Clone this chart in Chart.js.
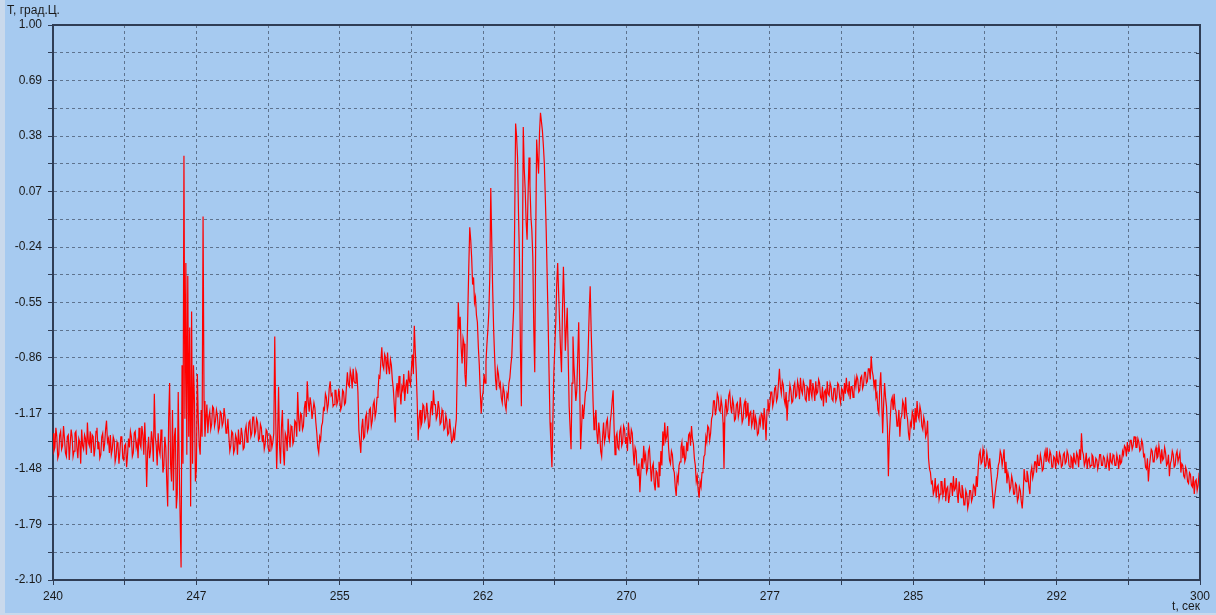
<!DOCTYPE html>
<html>
<head>
<meta charset="utf-8">
<title>T, град.Ц.</title>
<script src="https://cdn.jsdelivr.net/npm/chart.js@4.4.0/dist/chart.umd.min.js"></script>
<style>
  html, body { margin: 0; padding: 0; background: #A6CAF0; }
  #wrap { width: 1216px; height: 615px; }
</style>
</head>
<body>
<div id="wrap"><canvas id="tempChart" width="1216" height="615"></canvas></div>
<script>
// sample time (s): first sample and step between samples
const timeStart = 240;
const timeStep = 0.05;

// temperature, one row per second (20 samples each)
const temperature = [
  -1.28,-1.38,-1.36,-1.25,-1.30,-1.42,-1.40,-1.29,-1.27,-1.37,-1.35,-1.24,-1.31,-1.39,-1.41,-1.30,-1.29,-1.43,-1.34,-1.26, // 240
  -1.30,-1.41,-1.38,-1.28,-1.27,-1.36,-1.42,-1.31,-1.33,-1.45,-1.26,-1.35,-1.37,-1.29,-1.31,-1.40,-1.22,-1.33,-1.35,-1.27, // 241
  -1.39,-1.29,-1.30,-1.41,-1.36,-1.27,-1.25,-1.37,-1.33,-1.42,-1.40,-1.30,-1.28,-1.38,-1.34,-1.26,-1.21,-1.33,-1.31,-1.39, // 242
  -1.29,-1.40,-1.37,-1.30,-1.32,-1.44,-1.41,-1.33,-1.35,-1.45,-1.38,-1.30,-1.30,-1.42,-1.43,-1.35,-1.34,-1.47,-1.40,-1.31, // 243
  -1.36,-1.27,-1.30,-1.41,-1.39,-1.28,-1.27,-1.36,-1.33,-1.42,-1.25,-1.34,-1.36,-1.24,-1.29,-1.40,-1.22,-1.35,-1.58,-1.38, // 244
  -1.30,-1.42,-1.38,-1.27,-1.32,-1.44,-1.06,-1.30,-1.35,-1.46,-1.28,-1.37,-1.40,-1.26,-1.33,-1.50,-1.46,-1.30,-1.36,-1.55, // 245
  -1.69,-1.20,-1.00,-1.45,-1.55,-1.15,-1.60,-1.30,-1.25,-1.70,-1.62,-1.05,-1.45,-1.75,-2.03,-0.90,-1.45, 0.27,-1.20,-0.33, // 246
  -1.40,-0.40,-1.30,-0.69,-1.69,-0.60,-1.45,-0.90,-1.10,-1.55,-1.48,-0.95,-1.20,-1.35,-1.40,-1.15,-1.30,-0.07,-1.10,-1.30, // 247
  -1.20,-1.12,-1.28,-1.19,-1.16,-1.26,-1.23,-1.13,-1.14,-1.24,-1.21,-1.15,-1.18,-1.27,-1.25,-1.16,-1.17,-1.24,-1.22,-1.14, // 248
  -1.19,-1.28,-1.26,-1.20,-1.30,-1.38,-1.35,-1.27,-1.28,-1.39,-1.37,-1.29,-1.31,-1.40,-1.26,-1.34,-1.34,-1.25,-1.29,-1.37, // 249
  -1.36,-1.27,-1.24,-1.33,-1.30,-1.22,-1.21,-1.30,-1.28,-1.19,-1.19,-1.29,-1.27,-1.20,-1.22,-1.32,-1.31,-1.23,-1.25,-1.33, // 250
  -1.29,-1.37,-1.34,-1.26,-1.27,-1.36,-1.38,-1.29,-1.30,-1.36,-1.33,-1.28,-0.74,-1.20,-1.48,-1.30,-1.02,-1.35,-1.45,-1.25, // 251
  -1.15,-1.38,-1.46,-1.28,-1.30,-1.38,-1.20,-1.29,-1.36,-1.24,-1.25,-1.34,-1.32,-1.21,-1.22,-1.30,-1.05,-1.20,-1.27,-1.17, // 252
  -1.18,-1.26,-1.24,-1.14,-1.10,-1.19,-0.99,-1.10,-1.16,-1.08,-1.12,-1.20,-1.20,-1.11,-1.14,-1.22,-1.28,-1.36,-1.39,-1.30, // 253
  -1.32,-1.24,-1.22,-1.14,-1.15,-1.06,-1.08,-1.15,-1.12,-1.03,-0.99,-1.07,-1.06,-1.13,-1.12,-1.04,-1.04,-1.12,-1.10,-1.03, // 254
  -1.09,-1.15,-1.13,-1.04,-1.05,-1.12,-1.11,-1.02,-0.94,-1.01,-1.02,-0.93,-0.96,-1.03,-0.92,-0.99,-1.00,-0.93,-0.95,-1.05, // 255
  -1.26,-1.33,-1.39,-1.25,-1.20,-1.31,-1.30,-1.19,-1.17,-1.27,-1.25,-1.15,-1.14,-1.24,-1.21,-1.12,-1.10,-1.19,-1.16,-1.08, // 256
  -1.05,-0.96,-0.97,-0.88,-0.80,-0.90,-0.92,-0.84,-0.86,-0.95,-0.83,-0.91,-0.95,-0.87,-0.90,-0.98,-1.03,-1.12,-1.22,-1.05, // 257
  -1.00,-1.08,-0.96,-1.05,-1.12,-1.02,-1.04,-0.95,-1.10,-1.02,-0.98,-1.06,-0.93,-0.99,-1.01,-0.92,-0.84,-0.95,-0.68,-0.82, // 258
  -0.93,-1.10,-1.32,-1.20,-1.15,-1.24,-1.22,-1.12,-1.13,-1.21,-1.19,-1.11,-1.17,-1.25,-1.24,-1.15,-1.10,-1.18,-1.04,-1.12, // 259
  -1.12,-1.20,-1.18,-1.10,-1.14,-1.23,-1.22,-1.15,-1.17,-1.26,-1.25,-1.18,-1.21,-1.29,-1.28,-1.20,-1.26,-1.33,-1.32,-1.27, // 260
  -1.32,-1.25,-1.20,-0.90,-0.55,-0.70,-0.63,-0.80,-0.89,-0.75,-0.78,-0.95,-1.02,-0.85,-0.60,-0.35,-0.13,-0.20,-0.30,-0.45, // 261
  -0.41,-0.55,-0.52,-0.62,-0.66,-0.80,-0.90,-1.05,-1.17,-1.08,-1.05,-0.95,-1.00,-0.88,-0.78,-0.70,-0.60,-0.40, 0.09,-0.20, // 262
  -0.48,-0.70,-0.85,-0.98,-1.04,-0.92,-0.95,-1.02,-1.00,-1.08,-1.11,-1.02,-1.05,-1.12,-1.15,-1.06,-1.08,-1.00,-0.97,-0.90, // 263
  -0.85,-0.70,-0.58,-0.10, 0.45, 0.38, 0.26,-0.05,-0.30,-0.80,-1.13,-0.40, 0.43, 0.20, 0.08,-0.10,-0.20, 0.05, 0.26, 0.10, // 264
  -0.07,-0.15,-0.30,-0.70,-0.94,-0.20, 0.36, 0.25, 0.17, 0.40, 0.51, 0.46, 0.41, 0.33, 0.23, 0.05,-0.15,-0.40,-0.66,-0.95, // 265
  -1.22,-1.35,-1.47,-1.20,-0.94,-0.80,-0.66,-0.45,-0.33,-0.50,-0.66,-0.82,-0.94,-0.60,-0.35,-0.55,-0.82,-0.70,-0.58,-0.85, // 266
  -1.13,-1.25,-1.37,-1.00,-0.74,-0.90,-1.00,-1.10,-1.04,-0.85,-0.66,-1.00,-1.37,-1.25,-1.12,-1.20,-1.13,-1.05,-1.04,-0.95, // 267
  -0.80,-0.60,-0.46,-0.70,-0.89,-1.10,-1.26,-1.20,-1.15,-1.28,-1.34,-1.22,-1.28,-1.38,-1.41,-1.30,-1.22,-1.33,-1.30,-1.22, // 268
  -1.20,-1.30,-1.32,-1.22,-1.17,-1.10,-1.04,-1.25,-1.40,-1.30,-1.28,-1.36,-1.37,-1.27,-1.25,-1.35,-1.33,-1.24,-1.26,-1.34, // 269
  -1.30,-1.38,-1.22,-1.30,-1.34,-1.26,-1.28,-1.38,-1.46,-1.36,-1.38,-1.48,-1.52,-1.45,-1.61,-1.50,-1.42,-1.48,-1.35,-1.43, // 270
  -1.40,-1.50,-1.48,-1.38,-1.36,-1.46,-1.55,-1.47,-1.45,-1.56,-1.60,-1.49,-1.50,-1.58,-1.44,-1.52,-1.38,-1.46,-1.27,-1.35, // 271
  -1.22,-1.32,-1.30,-1.24,-1.36,-1.43,-1.45,-1.38,-1.40,-1.48,-1.50,-1.58,-1.63,-1.52,-1.55,-1.46,-1.44,-1.36,-1.33,-1.42, // 272
  -1.35,-1.44,-1.42,-1.33,-1.38,-1.29,-1.28,-1.35,-1.24,-1.31,-1.34,-1.42,-1.46,-1.55,-1.52,-1.60,-1.64,-1.55,-1.58,-1.50, // 273
  -1.48,-1.41,-1.40,-1.30,-1.33,-1.24,-1.25,-1.32,-1.28,-1.20,-1.18,-1.10,-1.10,-1.18,-1.14,-1.06,-1.08,-1.15,-1.16,-1.09, // 274
  -1.13,-1.22,-1.48,-1.15,-1.09,-1.17,-1.15,-1.07,-1.05,-1.13,-1.17,-1.09,-1.12,-1.21,-1.20,-1.12,-1.11,-1.19,-1.16,-1.08, // 275
  -1.14,-1.22,-1.20,-1.12,-1.10,-1.19,-1.18,-1.11,-1.24,-1.17,-1.16,-1.24,-1.21,-1.15,-1.26,-1.19,-1.22,-1.29,-1.28,-1.20, // 276
  -1.23,-1.17,-1.18,-1.26,-1.14,-1.21,-1.32,-1.15,-1.09,-1.16,-1.12,-1.05,-1.05,-1.13,-1.10,-1.03,-1.02,-1.10,-1.08,-1.00, // 277
  -0.92,-1.02,-1.06,-0.99,-1.01,-1.09,-1.12,-1.05,-1.21,-1.10,-1.08,-1.01,-1.04,-1.11,-1.10,-1.02,-1.00,-1.08,-1.07,-0.99, // 278
  -1.02,-1.09,-0.97,-1.04,-1.06,-0.99,-1.01,-1.09,-1.10,-1.02,-1.03,-1.10,-0.98,-1.05,-1.08,-1.00,-1.04,-1.10,-0.99,-1.06, // 279
  -1.05,-0.98,-1.00,-1.08,-1.09,-1.02,-1.13,-1.05,-1.04,-1.11,-0.99,-1.06,-1.07,-1.00,-1.02,-1.09,-1.10,-1.03,-1.03,-1.10, // 280
  -1.08,-1.00,-1.01,-1.08,-1.11,-1.03,-1.04,-1.10,-1.00,-1.06,-0.97,-1.04,-1.06,-0.99,-1.09,-1.02,-1.02,-1.08,-1.05,-0.98, // 281
  -1.02,-0.96,-0.98,-1.05,-1.04,-0.97,-0.96,-1.03,-1.01,-0.94,-0.94,-1.00,-0.99,-0.92,-0.92,-0.98,-0.85,-0.93,-0.96,-1.02, // 282
  -0.98,-1.08,-1.06,-1.15,-1.17,-1.02,-0.94,-1.10,-1.28,-1.12,-1.00,-1.08,-1.13,-1.25,-1.52,-1.30,-1.19,-1.10,-1.08,-1.15, // 283
  -1.06,-1.14,-1.16,-1.24,-1.22,-1.15,-1.30,-1.20,-1.18,-1.10,-1.12,-1.20,-1.08,-1.17,-1.20,-1.28,-1.32,-1.22,-1.24,-1.16, // 284
  -1.18,-1.26,-1.14,-1.22,-1.10,-1.18,-1.20,-1.13,-1.16,-1.24,-1.26,-1.19,-1.22,-1.30,-1.28,-1.21,-1.42,-1.48,-1.50,-1.56, // 285
  -1.55,-1.62,-1.60,-1.53,-1.64,-1.58,-1.57,-1.65,-1.62,-1.55,-1.55,-1.63,-1.60,-1.53,-1.66,-1.59,-1.58,-1.67,-1.63,-1.56, // 286
  -1.56,-1.63,-1.52,-1.60,-1.59,-1.53,-1.62,-1.67,-1.55,-1.61,-1.64,-1.57,-1.60,-1.68,-1.68,-1.60,-1.62,-1.70,-1.67,-1.60, // 287
  -1.60,-1.66,-1.64,-1.57,-1.58,-1.63,-1.52,-1.58,-1.47,-1.40,-1.38,-1.45,-1.44,-1.37,-1.41,-1.47,-1.46,-1.39,-1.43,-1.48, // 288
  -1.42,-1.48,-1.55,-1.62,-1.70,-1.64,-1.60,-1.55,-1.52,-1.46,-1.44,-1.38,-1.40,-1.46,-1.42,-1.37,-1.50,-1.44,-1.56,-1.50, // 289
  -1.53,-1.60,-1.58,-1.52,-1.55,-1.62,-1.62,-1.56,-1.57,-1.66,-1.64,-1.58,-1.60,-1.66,-1.70,-1.62,-1.48,-1.54,-1.55,-1.49, // 290
  -1.52,-1.58,-1.62,-1.50,-1.47,-1.53,-1.50,-1.44,-1.44,-1.50,-1.40,-1.46,-1.46,-1.40,-1.43,-1.49,-1.48,-1.41,-1.38,-1.44, // 291
  -1.36,-1.43,-1.44,-1.38,-1.40,-1.47,-1.47,-1.41,-1.42,-1.48,-1.38,-1.44,-1.45,-1.39,-1.41,-1.47,-1.46,-1.40,-1.39,-1.45, // 292
  -1.44,-1.38,-1.40,-1.46,-1.47,-1.41,-1.42,-1.48,-1.39,-1.44,-1.45,-1.39,-1.41,-1.47,-1.37,-1.43,-1.28,-1.38,-1.40,-1.46, // 293
  -1.44,-1.39,-1.48,-1.43,-1.42,-1.47,-1.46,-1.40,-1.41,-1.47,-1.47,-1.42,-1.43,-1.48,-1.45,-1.40,-1.40,-1.46,-1.46,-1.41, // 294
  -1.42,-1.47,-1.47,-1.41,-1.44,-1.49,-1.39,-1.44,-1.45,-1.40,-1.41,-1.46,-1.46,-1.40,-1.43,-1.48,-1.40,-1.45,-1.44,-1.38, // 295
  -1.40,-1.35,-1.36,-1.41,-1.33,-1.38,-1.38,-1.32,-1.32,-1.37,-1.35,-1.30,-1.30,-1.36,-1.36,-1.31,-1.33,-1.38,-1.37,-1.32, // 296
  -1.34,-1.41,-1.40,-1.47,-1.48,-1.42,-1.55,-1.47,-1.42,-1.37,-1.38,-1.44,-1.44,-1.38,-1.36,-1.42,-1.41,-1.35,-1.39,-1.45, // 297
  -1.37,-1.43,-1.42,-1.36,-1.39,-1.46,-1.45,-1.40,-1.52,-1.45,-1.43,-1.38,-1.40,-1.47,-1.46,-1.40,-1.38,-1.44,-1.44,-1.39, // 298
  -1.50,-1.45,-1.46,-1.52,-1.53,-1.47,-1.49,-1.55,-1.56,-1.50,-1.51,-1.57,-1.58,-1.52,-1.62,-1.55,-1.54,-1.60,-1.57,-1.51, // 299
  -1.52                                                                                                                    // 300
];

// labelled ticks on both axes
const xTicks = [240, 247.5, 255, 262.5, 270, 277.5, 285, 292.5, 300];
const xTickLabels = ['240', '247', '255', '262', '270', '277', '285', '292', '300'];
const yTicks = [1.00, 0.69, 0.38, 0.07, -0.24, -0.55, -0.86, -1.17, -1.48, -1.79, -2.10];

const axisColor = '#2f3d55';
const gridColor = 'rgba(70, 85, 110, 0.75)';
const fontFamily = '"Liberation Sans", Arial, sans-serif';

// major ticks plus a grid line half way between each pair
function withHalves(list) {
  const out = [];
  for (let i = 0; i < list.length; i++) {
    out.push(list[i]);
    if (i < list.length - 1) out.push((list[i] + list[i + 1]) / 2);
  }
  return out;
}

const points = temperature.map((v, i) => ({ x: timeStart + i * timeStep, y: v }));

const frame = {
  id: 'frame',
  beforeDraw(chart) {
    const ctx = chart.ctx;
    ctx.save();
    ctx.fillStyle = '#A6CAF0';
    ctx.fillRect(0, 0, chart.width, chart.height);
    // light panel edge on the left and bottom
    ctx.fillStyle = '#c9d9ec';
    ctx.fillRect(0, 0, 5, chart.height);
    ctx.fillRect(0, chart.height - 2, chart.width, 2);
    ctx.restore();
  },
  afterDraw(chart) {
    const ctx = chart.ctx;
    const a = chart.chartArea;
    const y = chart.scales.y;
    ctx.save();
    ctx.strokeStyle = axisColor;
    ctx.lineWidth = 2;
    ctx.beginPath();
    ctx.moveTo(a.left, a.top);
    ctx.lineTo(a.right, a.top);
    ctx.lineTo(a.right, a.bottom);
    ctx.stroke();
    // small ticks on the right border
    ctx.lineWidth = 1;
    ctx.beginPath();
    y.ticks.forEach(t => {
      const py = Math.round(y.getPixelForValue(t.value)) + 0.5;
      ctx.moveTo(a.right - 4, py);
      ctx.lineTo(a.right, py);
    });
    ctx.stroke();
    ctx.fillStyle = '#1a1a1a';
    ctx.font = '12px ' + fontFamily;
    ctx.textBaseline = 'middle';
    ctx.textAlign = 'left';
    ctx.fillText('Т, град.Ц.', 7, 11);
    ctx.textAlign = 'right';
    ctx.fillText('t, сек', a.right, 607);
    ctx.restore();
  }
};

new Chart(document.getElementById('tempChart'), {
  type: 'line',
  data: {
    datasets: [{
      data: points,
      borderColor: '#ff0000',
      borderWidth: 1.2,
      pointRadius: 0,
      tension: 0,
      fill: false
    }]
  },
  options: {
    responsive: false,
    animation: false,
    parsing: false,
    layout: { padding: { top: 25, right: 16, left: 0, bottom: 0 } },
    plugins: { legend: { display: false }, tooltip: { enabled: false } },
    scales: {
      x: {
        type: 'linear',
        min: 240,
        max: 300,
        afterFit(scale) { scale.height = 35; },
        afterBuildTicks(scale) { scale.ticks = withHalves(xTicks).map(v => ({ value: v })); },
        ticks: {
          autoSkip: false,
          maxRotation: 0,
          padding: 4,
          color: '#1a1a1a',
          font: { family: fontFamily, size: 12 },
          callback(value) {
            const i = xTicks.findIndex(t => Math.abs(t - value) < 1e-6);
            return i >= 0 ? xTickLabels[i] : '';
          }
        },
        grid: {
          color: gridColor,
          lineWidth: 1,
          tickLength: 5,
          tickColor: axisColor,
          tickBorderDash: []
        },
        border: { display: true, color: axisColor, width: 2, dash: [3, 3] }
      },
      y: {
        min: -2.1,
        max: 1.0,
        afterFit(scale) { scale.width = 53; },
        afterBuildTicks(scale) { scale.ticks = withHalves(yTicks).map(v => ({ value: v })); },
        ticks: {
          autoSkip: false,
          padding: 6,
          color: '#1a1a1a',
          font: { family: fontFamily, size: 12 },
          callback(value) {
            const hit = yTicks.find(t => Math.abs(t - value) < 1e-6);
            return hit !== undefined ? hit.toFixed(2) : '';
          }
        },
        grid: {
          color: gridColor,
          lineWidth: 1,
          tickLength: 5,
          tickColor: axisColor,
          tickBorderDash: []
        },
        border: { display: true, color: axisColor, width: 2, dash: [3, 3] }
      }
    }
  },
  plugins: [frame]
});
</script>
</body>
</html>
